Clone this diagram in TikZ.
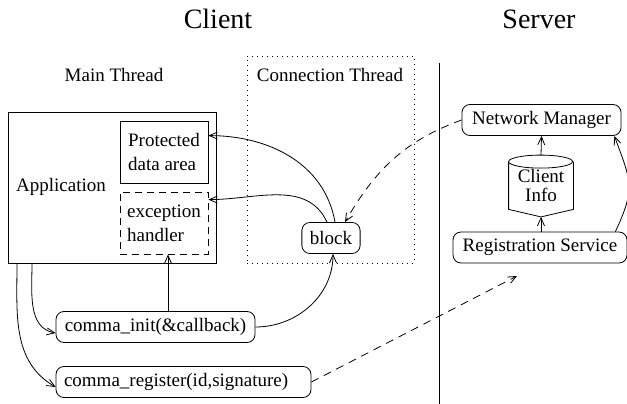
\documentclass[tikz,border=0pt]{standalone}
\usepackage{fontspec}
\setmainfont{Liberation Serif}
\usetikzlibrary{arrows.meta}

\begin{document}
\begin{tikzpicture}[x=1pt, y=1pt,
    line width=0.8pt,
    every node/.style={font=\fontsize{19}{20}\selectfont, inner sep=0pt},
    title/.style={font=\fontsize{28}{30}\selectfont},
    sqbox/.style={draw, minimum width=88pt, minimum height=62pt, align=left,
      font=\fontsize{19}{24}\selectfont},
    rbox/.style={draw, rounded corners=8pt, minimum height=31pt, inner xsep=8pt},
    arr/.style={-{Straight Barb[length=8pt,width=7pt]}},
    darr/.style={arr, dash pattern=on 8pt off 6pt},
  ]
\useasboundingbox (0,0) rectangle (627,-404);

% titles
\node[title] (client) at (218,-19) {Client};
\node[title] (server) at (539,-19) {Server};
\node (mainlbl) at (114,-75) {Main Thread};
\node (connlbl) at (330,-75) {Connection Thread};

% client side
\node[draw, dash pattern=on 1pt off 4pt, minimum width=167pt,
      minimum height=207pt] (conn) at (330.5,-159.5) {};
\node[draw, minimum width=208pt, minimum height=151pt] (app) at (112,-187.5) {};
\node (apptxt) at (61,-187) {Application};
\node[sqbox] (prot) at (164,-152) {Protected\\data area};
\node[sqbox, dash pattern=on 7pt off 5pt] (exc) at (164,-223) {exception\\handler};
\node[rbox, minimum width=56pt] (block) at (331,-238) {block};
\node[rbox, minimum width=199pt] (init) at (155.5,-327) {comma\_init(\&callback)};
\node[rbox, text width=239pt, align=left] (regcall) at (183.5,-382)
    {comma\_register(id,signature)};

% server side
\node[rbox, minimum width=159pt] (nm) at (541.5,-120) {Network Manager};
\node[rbox, minimum width=174pt] (reg) at (540,-247.5) {Registration Service};
\node[minimum width=64pt, minimum height=61pt, align=center,
      font=\fontsize{19}{19}\selectfont] (info) at (541,-186) {Client\\Info};
\draw ([yshift=-6.5pt]info.north west)
    arc[start angle=180, end angle=-180, x radius=32pt, y radius=6.5pt];
\draw ([yshift=-6.5pt]info.north west) -- ([yshift=7.5pt]info.south west)
    -- (info.south) -- ([yshift=7.5pt]info.south east)
    -- ([yshift=-6.5pt]info.north east);

\coordinate (srvtop) at (439,-63);
\coordinate (srvbot) at (439,-404);
\coordinate (regin) at (517,-276);
\draw (srvtop) -- (srvbot);

% connectors
\draw[arr] ([xshift=4pt]block.north) to[out=100,in=0] ([yshift=-15pt]prot.north east);
\draw[arr] ([xshift=-4pt]block.north) to[out=115,in=0] ([yshift=-8pt]exc.north east);
\draw[darr] (nm.west) to[out=200,in=60] ([xshift=14pt]block.north);
\draw[arr] (init.east) to[out=0,in=-90] ([xshift=2pt]block.south);
\draw[arr] ([xshift=4pt]exc.south |- init.north) -- ([xshift=4pt]exc.south);
\draw[arr] ([xshift=-80pt]app.south) to[out=-90,in=170] ([yshift=-6pt]init.west);
\draw[arr] ([xshift=-95pt]app.south) to[out=-90,in=150] ([yshift=-5pt]regcall.west);
\draw[darr] (regcall.east) -- (regin);
\draw[arr] (info.north) -- (nm.south);
\draw[arr] (reg.north -| info) -- (info.south);
\draw[arr] ([xshift=-12pt]reg.north east) to[out=65,in=-70, looseness=1.3]
    ([xshift=-7pt]nm.south east);
\end{tikzpicture}
\end{document}
